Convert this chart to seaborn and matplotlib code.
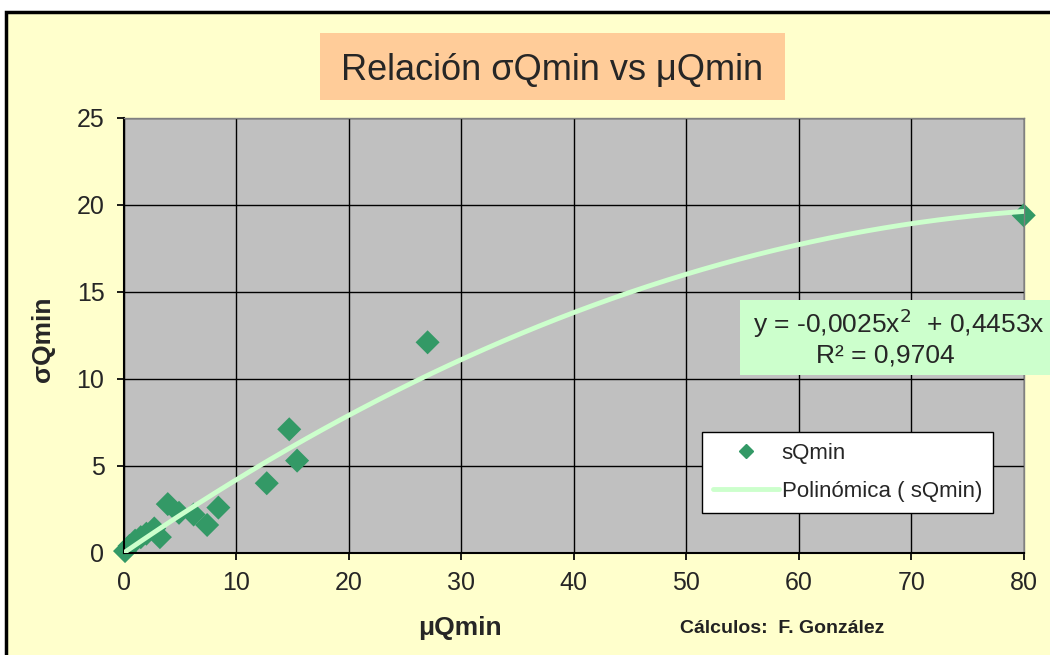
import numpy as np
import pandas as pd
import matplotlib.pyplot as plt
import seaborn as sns
from matplotlib.patches import Rectangle
from matplotlib.lines import Line2D

# mean of minimum flow vs its standard deviation
mu_qmin = [0.1, 0.5, 1.0, 1.5, 2.0, 2.7, 3.2, 3.9, 4.9, 6.2, 7.4, 8.4,
           12.7, 14.7, 15.4, 27.0, 80.0]
sigma_qmin = [0.1, 0.4, 0.7, 0.9, 1.1, 1.4, 0.9, 2.8, 2.3, 2.2, 1.6, 2.6,
              4.0, 7.1, 5.3, 12.1, 19.4]
trend_a = -0.0025
trend_b = 0.4453
r2_text = "R² = 0,9704"
eq_text = "y = -0,0025x$^2$  + 0,4453x"

df = pd.DataFrame({"mu": mu_qmin, "sigma": sigma_qmin})
xs = np.linspace(0, 80, 200)
trend = pd.DataFrame({"mu": xs, "sigma": trend_a * xs**2 + trend_b * xs})

sns.set_theme(style="white")
plt.rcParams['font.family'] = ['Liberation Sans', 'DejaVu Sans']

fig = plt.figure(figsize=(10.5, 6.55), dpi=100, facecolor="white")
fig.patches.append(Rectangle((0.006, -0.05), 1.1, 0.05 + 0.982, transform=fig.transFigure,
                             facecolor="#FFFFCC", edgecolor="black", lw=2.5, zorder=-10))
ax = fig.add_axes([0.118, 0.156, 0.857, 0.664])
ax.set_facecolor("#C0C0C0")

sns.lineplot(data=trend, x="mu", y="sigma", ax=ax, color="#CCFFCC", lw=3.5, zorder=3)
sns.scatterplot(data=df, x="mu", y="sigma", ax=ax, marker="D", s=150, color="#339966",
                edgecolor="none", zorder=2, clip_on=False)

ax.set_xlim(0, 80)
ax.set_ylim(0, 25)
ax.set_xticks(range(0, 81, 10))
ax.set_yticks(range(0, 26, 5))
ax.grid(True, color="black", lw=1)
ax.set_axisbelow(True)
for side in ["top", "right"]:
    ax.spines[side].set_color("#808080")
    ax.spines[side].set_linewidth(1)
for side in ["left", "bottom"]:
    ax.spines[side].set_color("black")
    ax.spines[side].set_linewidth(1.5)
ax.tick_params(axis="both", labelsize=18, length=5, direction="out", color="black",
               left=True, bottom=True)
ax.tick_params(axis="x", pad=8)
ax.tick_params(axis="y", pad=9)
ax.set_xlabel("μQmin", fontsize=19, fontweight="bold")
ax.set_ylabel("σQmin", fontsize=19, fontweight="bold")
ax.xaxis.set_label_coords(0.373, -0.145)
ax.yaxis.set_label_coords(-0.077, 0.49)

fig.patches.append(Rectangle((0.305, 0.847), 0.443, 0.103, transform=fig.transFigure,
                             facecolor="#FFCC99", edgecolor="none", zorder=1))
fig.text(0.526, 0.893, "Relación σQmin vs μQmin", ha="center", va="center", fontsize=26,
         zorder=2)
fig.text(0.745, 0.041, "Cálculos:  F. González", ha="center", va="center",
         fontsize=14, fontweight="bold", color="#222222")

fig.patches.append(Rectangle((0.705, 0.427), 0.31, 0.115, transform=fig.transFigure,
                             facecolor="#CCFFCC", edgecolor="none", zorder=5))
fig.text(0.856, 0.506, eq_text, ha="center", va="center", fontsize=19, zorder=6)
fig.text(0.843, 0.458, r2_text, ha="center", va="center", fontsize=19, zorder=6)

handles = [Line2D([], [], marker="D", ls="none", color="#339966", markersize=7),
           Line2D([], [], color="#CCFFCC", lw=3.5)]
leg = ax.legend(handles, ["sQmin", "Polinómica ( sQmin)"], loc="lower left",
                bbox_to_anchor=(0.642, 0.092), fontsize=16, frameon=True, fancybox=False,
                edgecolor="black", framealpha=1, borderpad=0.5, labelspacing=0.75,
                handlelength=3.0, handletextpad=0.1, borderaxespad=0)
leg.get_frame().set_linewidth(1)

fig.savefig("out.png", dpi=100, facecolor=fig.get_facecolor())
